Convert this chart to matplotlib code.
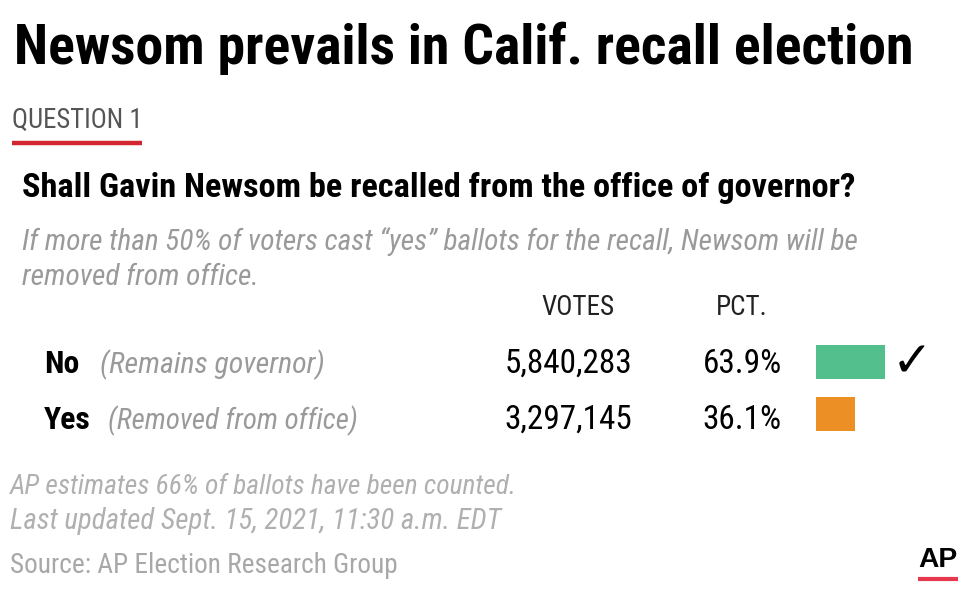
import matplotlib
matplotlib.use("Agg")
import matplotlib.pyplot as plt

# ---- data ----
choices = ["No", "Yes"]
notes = ["(Remains governor)", "(Removed from office)"]
votes = [5840283, 3297145]
pct = [63.9, 36.1]
bar_colors = ["#52bf8c", "#ec8f24"]
winner = "No"

title = "Newsom prevails in Calif. recall election"
question_label = "QUESTION 1"
question = "Shall Gavin Newsom be recalled from the office of governor?"
explain = ["If more than 50% of voters cast \u201cyes\u201d ballots for the recall, Newsom will be",
           "removed from office."]
footer = ["AP estimates 66% of ballots have been counted.",
          "Last updated Sept. 15, 2021, 11:30 a.m. EDT"]
source = "Source: AP Election Research Group"

FAM = ["Roboto Condensed", "Liberation Sans Narrow", "Liberation Sans", "DejaVu Sans"]

W, H = 960, 604
fig = plt.figure(figsize=(W / 100, H / 100), dpi=100)
ax = fig.add_axes([0, 0, 1, 1])
ax.set_xlim(0, W)
ax.set_ylim(H, 0)
ax.axis("off")
renderer = fig.canvas.get_renderer()

def t(x, y, s, size, color="#000000", weight="normal", style="normal", ha="left",
      fam=None, width=None):
    txt = ax.text(x, y, s, fontsize=size, color=color, fontweight=weight, fontstyle=style,
                  ha=ha, va="baseline", family=fam or FAM)
    if width:
        w = txt.get_window_extent(renderer).width
        txt.set_fontsize(size * width / w)
    return txt

t(14, 64, title, 40, weight="bold", width=898)
t(12, 128, question_label, 18, color="#555555", width=131)
ax.plot([12, 142], [143, 143], color="#d22630", lw=3.2, solid_capstyle="butt")
t(22, 197, question, 24, weight="bold", width=836)
e0 = t(22, 250, explain[0], 20, color="#9a9a9a", style="italic", width=836)
t(22, 285, explain[1], e0.get_fontsize(), color="#9a9a9a", style="italic")
v = t(578, 315, "VOTES", 18, color="#222222", ha="center", width=73)
t(742, 315, "PCT.", v.get_fontsize(), color="#222222", ha="center")

row_y = [373, 429]
note_x = [100, 108]
note_w = [225, 250]
lab = t(44, row_y[1], choices[1], 24, weight="bold", width=47)
t(44, row_y[0], choices[0], lab.get_fontsize(), weight="bold")
nsize = None
num = t(632, row_y[0], f"{votes[0]:,}", 24, ha="right", width=128)
t(632, row_y[1], f"{votes[1]:,}", num.get_fontsize(), ha="right")
for i in range(len(choices)):
    t(note_x[i], row_y[i], notes[i], 20, color="#9a9a9a", style="italic", width=note_w[i])
    t(782, row_y[i], f"{pct[i]:.1f}%", num.get_fontsize(), ha="right")

# bars in own axes: 1.08 px per percentage point
bx = fig.add_axes([816 / W, 1 - 440 / H, 108 / W, 104 / H])
bx.set_xlim(0, 100)
bx.set_ylim(1.5, -0.5)
bx.barh(range(len(choices)), pct, height=0.67, color=bar_colors)
bx.axis("off")
wi = choices.index(winner)
ax.text(912, row_y[wi] + 3, "\u2713", fontsize=35, ha="center", va="baseline",
        family=["DejaVu Sans"], color="#000000", fontweight="bold")

t(10, 494, footer[0], 19, color="#b0b0b0", style="italic", width=509)
t(10, 529, footer[1], 19, color="#b0b0b0", style="italic", width=490)
t(10, 573, source, 19, color="#a8a8a8", width=388)

t(938, 567, "AP", 22, weight="bold", ha="center", fam=["Liberation Sans", "DejaVu Sans"], width=39)
ax.plot([918, 958], [579, 579], color="#e8384f", lw=3, solid_capstyle="butt")

fig.savefig("out.png", dpi=100)
